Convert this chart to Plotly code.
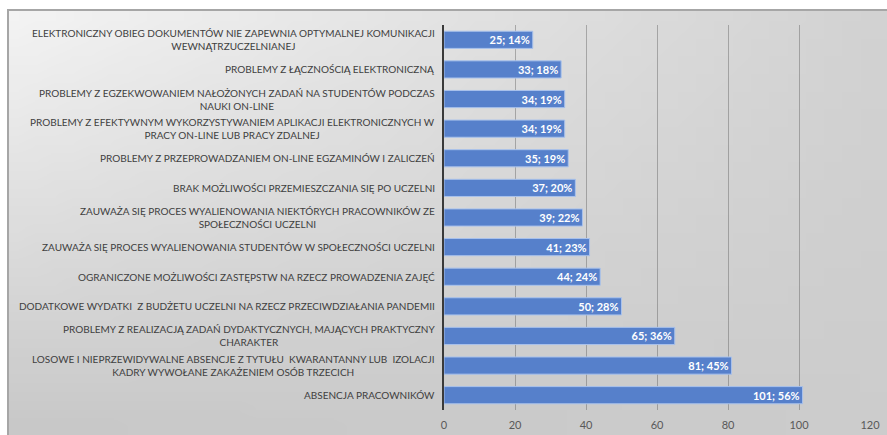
import base64
import struct
import zlib

import plotly.graph_objects as go

# categories, top to bottom
categories = [
    "ELEKTRONICZNY OBIEG DOKUMENTÓW NIE ZAPEWNIA OPTYMALNEJ KOMUNIKACJI<br>WEWNĄTRZUCZELNIANEJ",
    "PROBLEMY Z ŁĄCZNOŚCIĄ ELEKTRONICZNĄ",
    "PROBLEMY Z EGZEKWOWANIEM NAŁOŻONYCH ZADAŃ NA STUDENTÓW PODCZAS<br>NAUKI ON-LINE",
    "PROBLEMY Z EFEKTYWNYM WYKORZYSTYWANIEM APLIKACJI ELEKTRONICZNYCH W<br>PRACY ON-LINE LUB PRACY ZDALNEJ",
    "PROBLEMY Z PRZEPROWADZANIEM ON-LINE EGZAMINÓW I ZALICZEŃ",
    "BRAK MOŻLIWOŚCI PRZEMIESZCZANIA SIĘ PO UCZELNI",
    "ZAUWAŻA SIĘ PROCES WYALIENOWANIA NIEKTÓRYCH PRACOWNIKÓW ZE<br>SPOŁECZNOŚCI UCZELNI",
    "ZAUWAŻA SIĘ PROCES WYALIENOWANIA STUDENTÓW W SPOŁECZNOŚCI UCZELNI",
    "OGRANICZONE MOŻLIWOŚCI ZASTĘPSTW NA RZECZ PROWADZENIA ZAJĘĆ",
    "DODATKOWE WYDATKI  Z BUDŻETU UCZELNI NA RZECZ PRZECIWDZIAŁANIA PANDEMII",
    "PROBLEMY Z REALIZACJĄ ZADAŃ DYDAKTYCZNYCH, MAJĄCYCH PRAKTYCZNY<br>CHARAKTER",
    "LOSOWE I NIEPRZEWIDYWALNE ABSENCJE Z TYTUŁU  KWARANTANNY LUB  IZOLACJI<br>KADRY WYWOŁANE ZAKAŻENIEM OSÓB TRZECICH",
    "ABSENCJA PRACOWNIKÓW",
]
counts = [25, 33, 34, 34, 35, 37, 39, 41, 44, 50, 65, 81, 101]
percents = [14, 18, 19, 19, 19, 20, 22, 23, 24, 28, 36, 45, 56]
x_ticks = [0, 20, 40, 60, 80, 100, 120]

W, H = 887, 435
L, R, T, B = 444, 17, 25, 25
pw, ph = W - L - R, H - T - B


def px_x(p):
    return (p - L) / pw


def px_y(p):
    return 1 - (p - T) / ph


def gradient_png(w=48, h=24):
    # bilinear grey gradient, light top-left, darker toward bottom/right
    tl, tr, bl, br = 243, 210, 200, 204
    rows = b""
    for j in range(h):
        v = j / (h - 1)
        row = bytearray([0])
        for i in range(w):
            u = i / (w - 1)
            c = tl * (1 - u) * (1 - v) + tr * u * (1 - v) + bl * (1 - u) * v + br * u * v
            row.append(int(round(c)))
        rows += bytes(row)

    def chunk(tag, data):
        c = struct.pack(">I", len(data)) + tag + data
        return c + struct.pack(">I", zlib.crc32(tag + data) & 0xFFFFFFFF)

    png = b"\x89PNG\r\n\x1a\n"
    png += chunk(b"IHDR", struct.pack(">IIBBBBB", w, h, 8, 0, 0, 0, 0))
    png += chunk(b"IDAT", zlib.compress(rows))
    png += chunk(b"IEND", b"")
    return "data:image/png;base64," + base64.b64encode(png).decode()


labels = [f"{c}; {p}%" for c, p in zip(counts, percents)]

fig = go.Figure()
fig.add_trace(
    go.Bar(
        x=counts,
        y=categories,
        orientation="h",
        text=labels,
        textposition="inside",
        insidetextanchor="end",
        textangle=0,
        constraintext="none",
        insidetextfont=dict(family="Lato", size=11, color="white", weight="bold"),
        marker=dict(color="#5680cb", line=dict(color="#a9c2ec", width=1)),
        hoverinfo="skip",
    )
)

# category labels as annotations so two-line labels are centred like Excel
for cat in categories:
    fig.add_annotation(
        x=0, xref="paper", y=cat, yref="y",
        text=cat, showarrow=False,
        xanchor="right", yanchor="middle", align="center",
        xshift=-7,
        font=dict(family="Lato", size=10, color="#404040"),
    )

fig.add_layout_image(
    source=gradient_png(),
    xref="paper", yref="paper",
    x=px_x(9), y=px_y(11),
    sizex=px_x(W) - px_x(9), sizey=px_y(11) - px_y(H),
    xanchor="left", yanchor="top",
    sizing="stretch", layer="below",
)
fig.add_shape(
    type="rect", xref="paper", yref="paper",
    x0=px_x(8), y0=px_y(10), x1=px_x(W + 20), y1=px_y(H + 20),
    line=dict(color="#a6a6a6", width=2), fillcolor="rgba(0,0,0,0)",
    layer="above",
)

fig.update_layout(
    width=W, height=H,
    margin=dict(l=L, r=R, t=T, b=B),
    paper_bgcolor="white",
    plot_bgcolor="rgba(0,0,0,0)",
    bargap=0.42,
    showlegend=False,
    xaxis=dict(
        range=[0, 120],
        tickvals=x_ticks,
        showgrid=True,
        gridcolor="rgba(90,90,90,0.42)",
        gridwidth=1,
        zeroline=False,
        showline=False,
        ticks="",
        ticklabelstandoff=7,
        automargin=False,
        tickfont=dict(family="Lato", size=11, color="#595959"),
        fixedrange=True,
    ),
    yaxis=dict(
        autorange="reversed",
        showticklabels=False,
        showgrid=False,
        showline=True,
        linecolor="#3a3a3a",
        linewidth=2,
        ticks="",
        automargin=False,
        fixedrange=True,
    ),
)

fig.write_html(
    "out.html",
    config={"displayModeBar": False},
    post_script="document.body.style.margin='0';",
)
